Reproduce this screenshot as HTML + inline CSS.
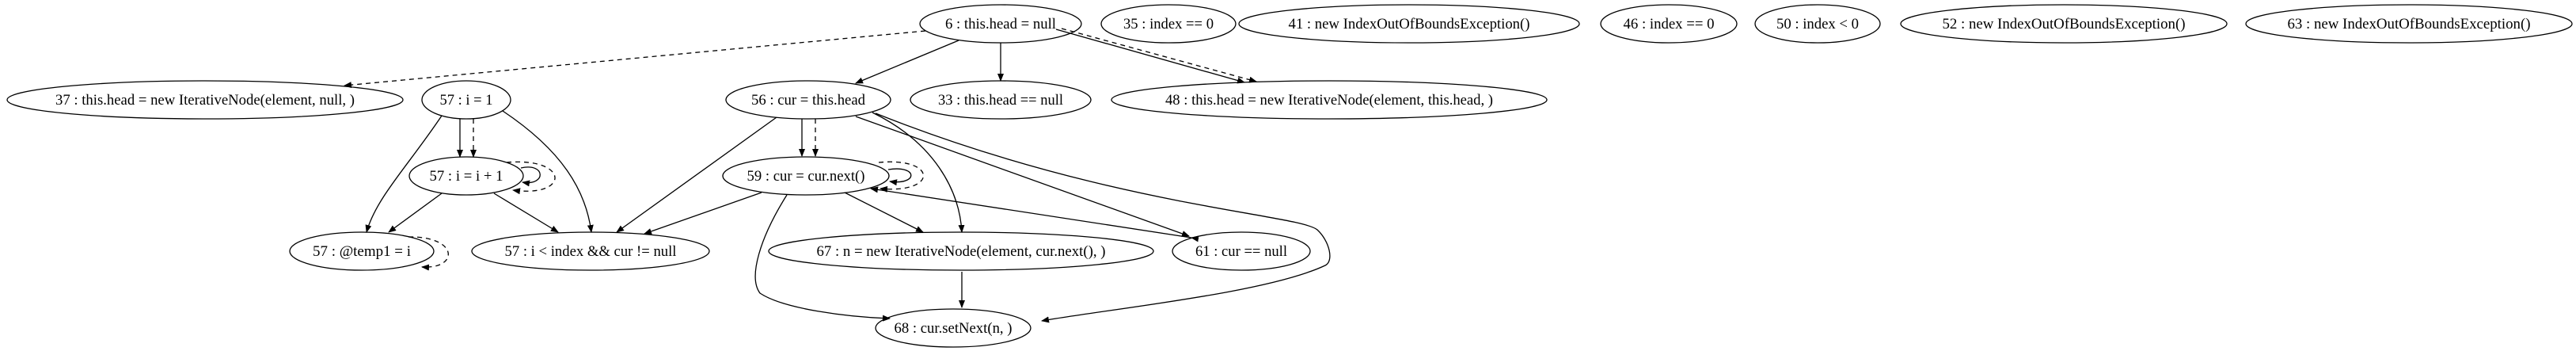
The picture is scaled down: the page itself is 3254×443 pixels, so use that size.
<!DOCTYPE html>
<html><head><meta charset="utf-8"><style>
html,body{margin:0;padding:0;background:#fff;}
svg{display:block;}
text{font-family:"Liberation Serif",serif;font-size:19px;fill:#000;}
</style></head><body>
<svg width="3254" height="443" viewBox="0 0 3254 443" xmlns="http://www.w3.org/2000/svg">
<defs>
<marker id="a" markerWidth="10" markerHeight="8" refX="9" refY="4" orient="auto" markerUnits="userSpaceOnUse">
<path d="M0,0 L10,4 L0,8 z" fill="#000"/>
</marker>
</defs>
<g fill="none" stroke="#000" stroke-width="1.3">
<ellipse cx="1264" cy="30" rx="102" ry="24"/>
<ellipse cx="1476" cy="30" rx="85" ry="24"/>
<ellipse cx="1780" cy="30" rx="215" ry="24"/>
<ellipse cx="2108" cy="30" rx="86" ry="24"/>
<ellipse cx="2296" cy="30" rx="79" ry="24"/>
<ellipse cx="2607" cy="30" rx="206" ry="24"/>
<ellipse cx="3043" cy="30" rx="206" ry="24"/>
<ellipse cx="259" cy="126" rx="250" ry="24"/>
<ellipse cx="589" cy="126" rx="56" ry="24"/>
<ellipse cx="1021" cy="126" rx="104" ry="24"/>
<ellipse cx="1264" cy="126" rx="114" ry="24"/>
<ellipse cx="1679" cy="126" rx="275" ry="24"/>
<ellipse cx="589" cy="222" rx="72" ry="24"/>
<ellipse cx="1018" cy="222" rx="105" ry="24"/>
<ellipse cx="457" cy="317" rx="91" ry="24"/>
<ellipse cx="746" cy="317" rx="150" ry="24"/>
<ellipse cx="1214" cy="317" rx="243" ry="24"/>
<ellipse cx="1568" cy="317" rx="87" ry="24"/>
<ellipse cx="1204" cy="414" rx="98" ry="24"/>

<path d="M1169,39 L435,108" stroke-dasharray="6,5" marker-end="url(#a)"/>
<path d="M1211,51 L1081,105" marker-end="url(#a)"/>
<path d="M1264,54 L1264,102" marker-end="url(#a)"/>
<path d="M1334,37 L1572,104" marker-end="url(#a)"/>
<path d="M1341,36 L1587,103" stroke-dasharray="6,5" marker-end="url(#a)"/>

<path d="M581,150 L581,198" marker-end="url(#a)"/>
<path d="M598,150 L598,198" stroke-dasharray="6,5" marker-end="url(#a)"/>
<path d="M558,146 C515,210 475,250 463,293" marker-end="url(#a)"/>
<path d="M635,140 C710,190 740,240 747,293" marker-end="url(#a)"/>
<path d="M658,212 C690,205 690,235 660,230" marker-end="url(#a)"/>
<path d="M640,205 C720,198 720,250 648,240" stroke-dasharray="6,5" marker-end="url(#a)"/>
<path d="M558,244 L491,293" marker-end="url(#a)"/>
<path d="M624,244 L705,293" marker-end="url(#a)"/>
<path d="M516,299 C580,298 580,340 533,337" stroke-dasharray="6,5" marker-end="url(#a)"/>

<path d="M981,148 L779,293" marker-end="url(#a)"/>
<path d="M1013,150 L1013,197" marker-end="url(#a)"/>
<path d="M1030,150 L1030,197" stroke-dasharray="6,5" marker-end="url(#a)"/>
<path d="M1102,142 C1180,180 1212,240 1215,293" marker-end="url(#a)"/>
<path d="M1081,147 L1502,298" marker-end="url(#a)"/>
<path d="M1106,143 C1400,260 1640,270 1664,290 C1680,305 1685,330 1674,335 C1600,370 1400,390 1316,405" marker-end="url(#a)"/>
<path d="M1122,214 C1160,208 1160,234 1124,229" marker-end="url(#a)"/>
<path d="M1110,205 C1185,198 1185,245 1112,238" stroke-dasharray="6,5" marker-end="url(#a)"/>
<path d="M962,243 L814,295" marker-end="url(#a)"/>
<path d="M1067,243 L1166,293" marker-end="url(#a)"/>
<path d="M994,246 C960,300 945,350 960,370 C990,390 1070,400 1124,402" marker-end="url(#a)"/>
<path d="M1505,300 L1100,238" marker-start="url(#a)" marker-end="url(#a)"/>
<path d="M1215,343 L1215,388" marker-end="url(#a)"/>
</g>
<g text-anchor="middle">
<text x="1264" y="36" textLength="140" lengthAdjust="spacingAndGlyphs">6 : this.head = null</text>
<text x="1476" y="36" textLength="114" lengthAdjust="spacingAndGlyphs">35 : index == 0</text>
<text x="1780" y="36" textLength="305" lengthAdjust="spacingAndGlyphs">41 : new IndexOutOfBoundsException()</text>
<text x="2108" y="36" textLength="115" lengthAdjust="spacingAndGlyphs">46 : index == 0</text>
<text x="2296" y="36" textLength="104" lengthAdjust="spacingAndGlyphs">50 : index &lt; 0</text>
<text x="2607" y="36" textLength="307" lengthAdjust="spacingAndGlyphs">52 : new IndexOutOfBoundsException()</text>
<text x="3043" y="36" textLength="307" lengthAdjust="spacingAndGlyphs">63 : new IndexOutOfBoundsException()</text>
<text x="259" y="132" textLength="378" lengthAdjust="spacingAndGlyphs">37 : this.head = new IterativeNode(element, null, )</text>
<text x="589" y="132" textLength="67" lengthAdjust="spacingAndGlyphs">57 : i = 1</text>
<text x="1021" y="132" textLength="144" lengthAdjust="spacingAndGlyphs">56 : cur = this.head</text>
<text x="1264" y="132" textLength="158" lengthAdjust="spacingAndGlyphs">33 : this.head == null</text>
<text x="1679" y="132" textLength="414" lengthAdjust="spacingAndGlyphs">48 : this.head = new IterativeNode(element, this.head, )</text>
<text x="589" y="228" textLength="93" lengthAdjust="spacingAndGlyphs">57 : i = i + 1</text>
<text x="1018" y="228" textLength="149" lengthAdjust="spacingAndGlyphs">59 : cur = cur.next()</text>
<text x="457" y="323" textLength="124" lengthAdjust="spacingAndGlyphs">57 : @temp1 = i</text>
<text x="746" y="323" textLength="217" lengthAdjust="spacingAndGlyphs">57 : i &lt; index &amp;&amp; cur != null</text>
<text x="1214" y="323" textLength="365" lengthAdjust="spacingAndGlyphs">67 : n = new IterativeNode(element, cur.next(), )</text>
<text x="1568" y="323" textLength="116" lengthAdjust="spacingAndGlyphs">61 : cur == null</text>
<text x="1204" y="420" textLength="149" lengthAdjust="spacingAndGlyphs">68 : cur.setNext(n, )</text>
</g>
</svg>
</body></html>
